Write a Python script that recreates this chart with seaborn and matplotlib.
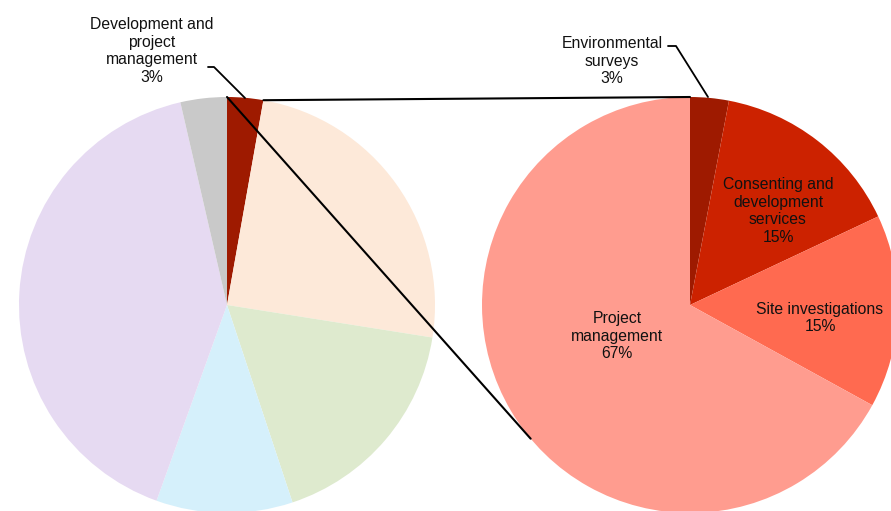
import numpy as np
import matplotlib
matplotlib.use("Agg")
import matplotlib.pyplot as plt
import seaborn as sns

# ---- data ----
left_labels = ["Development and\nproject\nmanagement", "Other A", "Other B", "Other C", "Other D", "Other E"]
left_values = [2.8, 24.7, 17.4, 10.6, 40.9, 3.6]
left_colors = ["#9E1A00", "#FDE9D9", "#DEEACE", "#D5F0FB", "#E6DAF2", "#C9C9C9"]

right_labels = ["Environmental\nsurveys", "Consenting and\ndevelopment\nservices", "Site investigations", "Project\nmanagement"]
right_values = [3, 15, 15, 67]
right_pct = ["3%", "15%", "15%", "67%"]
right_colors = ["#9E1A00", "#CC2200", "#FF6A50", "#FF9C8F"]

sns.set_theme(style="white")
plt.rcParams['font.family'] = ['Liberation Sans', 'DejaVu Sans']

W, H = 891, 511
fig = plt.figure(figsize=(W / 100, H / 100), dpi=100)
ax = fig.add_axes([0, 0, 1, 1])

R = 208
lc = (227, H - 305)
rc = (690, H - 305)

ax.pie(left_values, colors=left_colors, startangle=90, counterclock=False,
       radius=R, center=lc, wedgeprops=dict(linewidth=0), frame=True)
ax.pie(right_values, colors=right_colors, startangle=90, counterclock=False,
       radius=R, center=rc, wedgeprops=dict(linewidth=0), frame=True)
ax.set_xlim(0, W)
ax.set_ylim(0, H)
ax.set_aspect('equal')
ax.axis('off')

def pt(c, ang_deg):
    a = np.deg2rad(ang_deg)
    return (c[0] + R * np.cos(a), c[1] + R * np.sin(a))

# connector lines
l_top = pt(lc, 90)
l_end = pt(lc, 90 - left_values[0] / 100 * 360)
r_top = pt(rc, 90)
r_low = pt(rc, 220)
ax.plot([l_end[0], r_top[0]], [l_end[1], r_top[1]], color="black", lw=1.5)
ax.plot([l_top[0], r_low[0]], [l_top[1], r_low[1]], color="black", lw=1.5)

fs = 11.3
ls = 1.2
tc = "#111111"
# left label
ax.text(152, H - 51, left_labels[0] + "\n" + "3%", ha="center", va="center",
        fontsize=fs, linespacing=ls, color=tc)
ax.plot([208, 214, 245], [H - 67, H - 67, H - 98], color="black", lw=1.3)

# right labels
ax.text(612, H - 61, right_labels[0] + "\n" + right_pct[0], ha="center", va="center",
        fontsize=fs, linespacing=ls, color=tc)
ax.plot([668, 676, 708], [H - 46, H - 46, H - 97], color="black", lw=1.3)

ax.text(778, H - 211, right_labels[1] + "\n" + right_pct[1], ha="center", va="center",
        fontsize=fs, linespacing=ls, color=tc)
ax.text(820, H - 318, right_labels[2] + "\n" + right_pct[2], ha="center", va="center",
        fontsize=fs, linespacing=ls, color=tc)
ax.text(617, H - 336, right_labels[3] + "\n" + right_pct[3], ha="center", va="center",
        fontsize=fs, linespacing=ls, color=tc)

fig.savefig("out.png", dpi=100)
